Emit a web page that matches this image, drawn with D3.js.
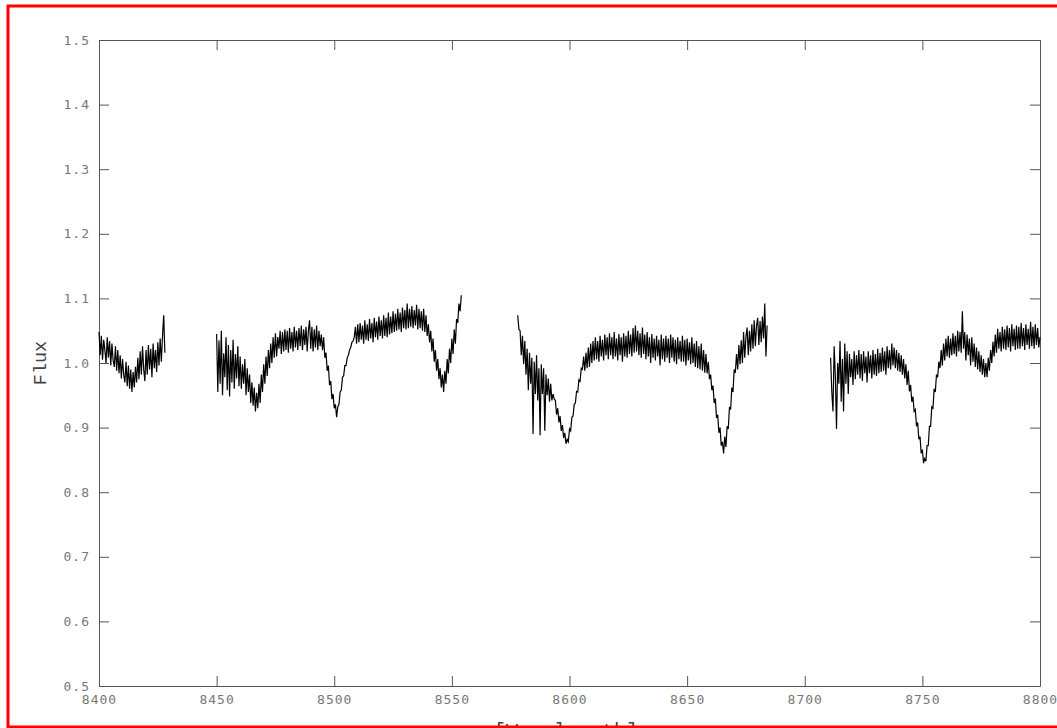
<!DOCTYPE html>
<html>
<head>
<meta charset="utf-8">
<script src="https://cdn.jsdelivr.net/npm/d3@7"></script>
<style>
  body { margin: 0; background: #fff; }
  .tick text { font-family: "DejaVu Sans Mono", monospace; font-size: 13px; fill: #777; letter-spacing: 1px; }
  .axis path, .axis line { stroke: #555; }
  .title { font-family: "Liberation Mono", "Courier New", monospace; fill: #444; }
</style>
</head>
<body>
<div id="container"></div>
<script>
/**
 * DATA
 * spectrum pieces on a 0.5 A grid, flux
 * (one row = 5 A)
 * */
const xTicks = [8400, 8450, 8500, 8550, 8600, 8650, 8700, 8750, 8800];
const yTicks = [0.5, 0.6, 0.7, 0.8, 0.9, 1.0, 1.1, 1.2, 1.3, 1.4, 1.5];
const segStart = [8400, 8450, 8578, 8711];
const stepA = 0.5;

// 8400 - 8428
const flux1 = [
  1.048, 1.012, 1.042, 1.005, 1.036, 1.020, 1.000, 1.040, 1.008, 1.034,
  0.996, 1.030, 1.004, 0.994, 1.026, 0.988, 1.020, 0.984, 1.012, 0.976,
  1.006, 0.982, 0.970, 1.002, 0.964, 0.996, 0.960, 0.990, 0.955, 0.986,
  0.962, 0.994, 0.970, 1.008, 0.975, 1.018, 0.982, 1.026, 0.990, 0.972,
  1.020, 0.982, 1.028, 0.990, 1.022, 0.978, 1.030, 0.992, 1.020, 0.986,
  1.032, 0.996, 1.038, 1.002, 1.042, 1.074, 1.016
];
// 8450 - 8554
const flux2 = [
  1.045, 0.955, 1.035, 0.968, 1.050, 0.950, 1.015, 0.978, 1.040, 0.958,
  1.028, 0.948, 1.020, 0.970, 1.036, 0.960, 1.014, 0.976, 1.026, 0.964,
  1.010, 0.960, 0.998, 0.968, 1.006, 0.950, 0.992, 0.955, 0.982, 0.938,
  0.970, 0.934, 0.962, 0.925, 0.954, 0.930, 0.968, 0.938, 0.982, 0.955,
  0.998, 0.968, 1.010, 0.980, 1.020, 0.992, 1.030, 1.000, 1.040, 1.008,
  1.046, 1.010, 1.040, 1.022, 1.050, 1.014, 1.048, 1.018, 1.052, 1.020,
  1.050, 1.016, 1.054, 1.022, 1.048, 1.018, 1.056, 1.024, 1.050, 1.020,
  1.054, 1.026, 1.058, 1.020, 1.052, 1.028, 1.056, 1.018, 1.050, 1.066,
  1.022, 1.056, 1.018, 1.052, 1.024, 1.058, 1.020, 1.050, 1.026, 1.044,
  1.020, 1.040, 1.008, 1.016, 0.988, 0.996, 0.966, 0.972, 0.944, 0.952,
  0.930, 0.936, 0.916, 0.932, 0.936, 0.955, 0.958, 0.978, 0.980, 0.996,
  0.996, 1.008, 1.012, 1.020, 1.024, 1.032, 1.034, 1.040, 1.056, 1.030,
  1.060, 1.032, 1.062, 1.036, 1.058, 1.030, 1.066, 1.036, 1.060, 1.034,
  1.068, 1.038, 1.062, 1.032, 1.070, 1.040, 1.064, 1.036, 1.072, 1.042,
  1.066, 1.038, 1.074, 1.042, 1.070, 1.040, 1.078, 1.044, 1.072, 1.046,
  1.080, 1.048, 1.076, 1.050, 1.084, 1.052, 1.078, 1.048, 1.086, 1.054,
  1.082, 1.052, 1.092, 1.054, 1.084, 1.056, 1.088, 1.054, 1.082, 1.058,
  1.090, 1.052, 1.084, 1.054, 1.080, 1.050, 1.084, 1.048, 1.074, 1.042,
  1.060, 1.032, 1.050, 1.018, 1.038, 1.002, 1.020, 0.988, 1.006, 0.975,
  0.992, 0.962, 0.982, 0.955, 0.988, 0.968, 1.006, 0.984, 1.022, 1.000,
  1.038, 1.014, 1.052, 1.030, 1.068, 1.062, 1.092, 1.080, 1.105
];
// 8578 - 8684
const flux3 = [
  1.074, 1.052, 1.050, 1.012, 1.042, 0.998, 1.034, 0.982, 1.022, 0.958,
  1.016, 0.968, 1.008, 0.890, 1.002, 0.952, 1.012, 0.942, 0.992, 0.888,
  0.998, 0.952, 0.992, 0.895, 0.982, 0.950, 0.976, 0.940, 0.968, 0.942,
  0.952, 0.944, 0.942, 0.920, 0.930, 0.908, 0.918, 0.895, 0.904, 0.884,
  0.892, 0.875, 0.882, 0.878, 0.898, 0.895, 0.916, 0.918, 0.936, 0.938,
  0.956, 0.955, 0.974, 0.972, 0.992, 0.990, 1.010, 0.988, 1.016, 0.992,
  1.024, 0.994, 1.030, 1.000, 1.034, 1.004, 1.040, 1.006, 1.034, 1.002,
  1.042, 1.010, 1.036, 1.004, 1.044, 1.012, 1.040, 1.006, 1.046, 1.012,
  1.040, 1.006, 1.048, 1.010, 1.038, 1.004, 1.045, 1.012, 1.040, 1.002,
  1.046, 1.010, 1.042, 1.008, 1.050, 1.014, 1.044, 1.010, 1.054, 1.016,
  1.058, 1.018, 1.050, 1.012, 1.046, 1.008, 1.055, 1.014, 1.044, 1.006,
  1.048, 1.010, 1.040, 1.000, 1.045, 1.008, 1.038, 1.004, 1.042, 1.010,
  1.036, 0.996, 1.044, 1.006, 1.038, 1.002, 1.042, 1.008, 1.038, 1.000,
  1.044, 1.008, 1.040, 1.002, 1.036, 0.998, 1.040, 1.006, 1.034, 1.002,
  1.042, 1.002, 1.036, 0.996, 1.038, 1.004, 1.032, 0.998, 1.040, 1.000,
  1.030, 0.994, 1.034, 0.992, 1.026, 0.990, 1.030, 0.988, 1.020, 0.985,
  1.014, 0.984, 1.002, 0.975, 0.982, 0.958, 0.965, 0.938, 0.945, 0.915,
  0.920, 0.892, 0.900, 0.872, 0.878, 0.860, 0.886, 0.870, 0.902, 0.898,
  0.932, 0.928, 0.962, 0.955, 0.990, 0.985, 1.014, 0.990, 1.028, 0.998,
  1.035, 1.000, 1.048, 1.008, 1.040, 1.055, 1.012, 1.050, 1.018, 1.060,
  1.022, 1.066, 1.026, 1.058, 1.070, 1.028, 1.065, 1.032, 1.072, 1.038,
  1.092, 1.010, 1.058
];
// 8711 - 8800
const flux4 = [
  1.008, 0.955, 0.925, 1.026, 0.980, 0.898, 1.000, 0.968, 1.034, 0.940,
  1.006, 0.925, 1.030, 0.968, 1.018, 0.952, 1.014, 0.978, 1.006, 0.966,
  1.018, 0.975, 1.012, 0.982, 1.020, 0.976, 1.014, 0.972, 1.018, 0.984,
  1.010, 0.970, 1.018, 0.984, 1.012, 0.976, 1.020, 0.982, 1.014, 0.980,
  1.022, 0.984, 1.016, 0.986, 1.024, 0.988, 1.018, 0.982, 1.026, 0.992,
  1.020, 0.990, 1.030, 0.996, 1.024, 0.992, 1.020, 0.988, 1.016, 0.986,
  1.012, 0.982, 1.006, 0.976, 0.998, 0.966, 0.988, 0.956, 0.966, 0.940,
  0.948, 0.925, 0.928, 0.902, 0.908, 0.882, 0.886, 0.860, 0.866, 0.845,
  0.852, 0.848, 0.872, 0.872, 0.902, 0.902, 0.932, 0.930, 0.960, 0.955,
  0.982, 0.978, 1.002, 0.992, 1.020, 0.996, 1.030, 1.004, 1.038, 1.010,
  1.042, 1.008, 1.038, 1.012, 1.046, 1.014, 1.042, 1.010, 1.050, 1.018,
  1.048, 1.016, 1.080, 1.022, 1.048, 1.004, 1.044, 1.012, 1.038, 0.996,
  1.040, 1.002, 1.030, 0.994, 1.024, 0.990, 1.018, 0.986, 1.012, 0.982,
  1.006, 0.978, 1.000, 0.978, 1.008, 0.988, 1.020, 1.000, 1.033, 1.010,
  1.044, 1.016, 1.053, 1.022, 1.048, 1.018, 1.056, 1.022, 1.052, 1.020,
  1.058, 1.024, 1.054, 1.018, 1.060, 1.026, 1.053, 1.020, 1.058, 1.022,
  1.056, 1.022, 1.062, 1.026, 1.054, 1.020, 1.060, 1.028, 1.053, 1.022,
  1.064, 1.026, 1.056, 1.022, 1.060, 1.028, 1.054, 1.024, 1.040
];
const segments = [flux1, flux2, flux3, flux4];

/**
 * CONSTANTS
 * */
const width = 1057, height = 728;
const margin = { top: 40, right: 17, bottom: 42, left: 99 };

const svg = d3.select("#container")
  .append("svg")
  .attr("width", width)
  .attr("height", height);

svg.append("rect")
  .attr("width", width).attr("height", height)
  .attr("fill", "#fff");

const x = d3.scaleLinear()
  .domain([8400, 8800])
  .range([margin.left, width - margin.right]);

const y = d3.scaleLinear()
  .domain([0.5, 1.5])
  .range([height - margin.bottom, margin.top]);

// axes, ticks pointing inward
svg.append("g")
  .attr("class", "axis")
  .attr("transform", `translate(0,${y(0.5)})`)
  .call(d3.axisBottom(x).tickValues(xTicks).tickFormat(d3.format("d"))
    .tickSize(-10).tickSizeOuter(0).tickPadding(9));

svg.append("g")
  .attr("class", "axis")
  .attr("transform", `translate(${x(8400)},0)`)
  .call(d3.axisLeft(y).tickValues(yTicks).tickFormat(d3.format(".1f"))
    .tickSize(-10).tickSizeOuter(0).tickPadding(9));

svg.append("g")
  .attr("class", "axis")
  .attr("transform", `translate(0,${y(1.5)})`)
  .call(d3.axisTop(x).tickValues(xTicks).tickFormat("")
    .tickSize(-10).tickSizeOuter(0));

svg.append("g")
  .attr("class", "axis")
  .attr("transform", `translate(${x(8800)},0)`)
  .call(d3.axisRight(y).tickValues(yTicks).tickFormat("")
    .tickSize(-10).tickSizeOuter(0));

// spectrum
const line = d3.line()
  .x(d => x(d[0]))
  .y(d => y(d[1]));

svg.selectAll(".spec")
  .data(segments.map((s, k) => s.map((v, i) => [segStart[k] + i * stepA, v])))
  .join("path")
  .attr("class", "spec")
  .attr("d", line)
  .attr("fill", "none")
  .attr("stroke", "#000")
  .attr("stroke-width", 1.2);

// titles
svg.append("text")
  .attr("class", "title")
  .attr("transform", `translate(46,${(y(0.5) + y(1.5)) / 2}) rotate(-90)`)
  .attr("text-anchor", "middle")
  .style("font-size", "18.5px")
  .text("Flux");

// the x title sits mostly below the frame, as in the original
svg.append("text")
  .attr("class", "title")
  .attr("x", 566)
  .attr("y", 737)
  .attr("text-anchor", "middle")
  .style("font-size", "20px")
  .text("[Wavelength]");

// red frame
svg.append("rect")
  .attr("x", 8).attr("y", 6)
  .attr("width", 1070).attr("height", 721)
  .attr("fill", "none")
  .attr("stroke", "#f00")
  .attr("stroke-width", 3);
</script>
</body>
</html>
